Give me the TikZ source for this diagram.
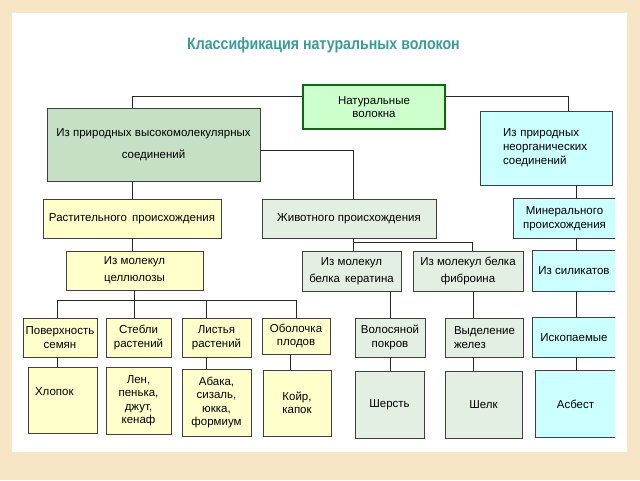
\documentclass[tikz,border=0pt]{standalone}
\usepackage{fontspec}
\usepackage{graphicx}
\setmainfont{Liberation Sans}
\usetikzlibrary{calc}
\definecolor{bgc}{HTML}{F6E6C6}
\definecolor{titlec}{HTML}{3A9C98}
\definecolor{bordc}{HTML}{404040}
\definecolor{rootfill}{HTML}{CCFFCC}
\definecolor{rootdraw}{HTML}{0B6A0B}
\definecolor{gmid}{HTML}{C6E0C6}
\definecolor{glight}{HTML}{E2EFE2}
\definecolor{ylw}{HTML}{FFFFCC}
\definecolor{cyn}{HTML}{CCFFFF}
\begin{document}
\begin{tikzpicture}[x=1pt,y=-1pt,
  box/.style={draw=bordc, line width=0.8pt, inner sep=2pt, align=center,
    font=\fontsize{11.5}{13.5}\selectfont},
  openbox/.style={box, draw=none},
  bord/.style={draw=bordc, line width=0.8pt},
  conn/.style={draw=black!85, line width=0.8pt},
  titlestyle/.style={font=\fontsize{16.5}{18}\selectfont\bfseries, text=titlec, anchor=base}]
\fill[bgc] (0,0) rectangle (640,480);
\fill[white] (12,13) rectangle (627,452);
\useasboundingbox (0,0) rectangle (640,480);

\node[titlestyle] (title) at (323.5,49) {\scalebox{0.86}[1]{Классификация натуральных волокон}};

% level 1
\node[box, draw=rootdraw, line width=1.3pt, fill=rootfill, minimum width=142pt, minimum height=44pt] (root) at (374,107) {Натуральные\\волокна};
\node[box, fill=gmid, minimum width=213pt, minimum height=73pt, font=\fontsize{11.5}{22}\selectfont] (hvm) at (153.5,144.5) {Из природных высокомолекулярных\\соединений};
\node[box, fill=cyn, minimum width=132pt, minimum height=74pt, text width=86pt, align=left, font=\fontsize{11.5}{14}\selectfont] (inorg) at (546,148) {Из природных\\неорганических\\соединений};

% level 2
\node[box, fill=ylw, minimum width=178pt, minimum height=39pt] (plant) at (132,218.5) {Растительного\, происхождения};
\node[box, fill=glight, minimum width=174pt, minimum height=39pt] (animal) at (349,218.5) {Животного происхождения};
\node[openbox, fill=cyn, minimum width=101pt, minimum height=39pt] (mineral) at (564.5,218.5) {Минерального\\происхождения};

% level 3
\node[box, fill=ylw, minimum width=137pt, minimum height=39pt, font=\fontsize{11.5}{17}\selectfont] (cell) at (134.5,270.5) {Из молекул\\целлюлозы};
\node[box, fill=glight, minimum width=99pt, minimum height=40pt, font=\fontsize{11.5}{17}\selectfont] (keratin) at (351.5,271) {Из молекул\\белка\, кератина};
\node[box, fill=glight, minimum width=110pt, minimum height=40pt, font=\fontsize{11.5}{17}\selectfont] (fibroin) at (468,271) {Из молекул белка\\фиброина};
\node[openbox, fill=cyn, minimum width=82pt, minimum height=40pt] (silicate) at (574,271) {Из силикатов};

% level 4
\node[box, fill=ylw, minimum width=74pt, minimum height=39pt] (surf) at (60,337.5) {Поверхность\\семян};
\node[box, fill=ylw, minimum width=65pt, minimum height=39pt] (stem) at (138.5,337.5) {Стебли\\растений};
\node[box, fill=ylw, minimum width=69pt, minimum height=39pt] (leaf) at (216.5,337.5) {Листья\\растений};
\node[box, fill=ylw, minimum width=68pt, minimum height=36pt] (shell) at (296,336) {Оболочка\\плодов};
\node[box, fill=glight, minimum width=70pt, minimum height=39pt] (hair) at (390,337.5) {Волосяной\\покров};
\node[box, fill=glight, minimum width=78pt, minimum height=39pt, text width=60pt, align=left] (gland) at (484,337.5) {Выделение\\желез};
\node[openbox, fill=cyn, minimum width=82pt, minimum height=39pt] (fossil) at (574,337.5) {Ископаемые};

% level 5
\node[box, fill=ylw, minimum width=69pt, minimum height=66pt, text width=55pt, align=left] (cotton) at (62.5,400) {\raisebox{5pt}[0pt][0pt]{Хлопок}};
\node[box, fill=ylw, minimum width=65pt, minimum height=67pt] (flax) at (138.5,400.5) {Лен,\\пенька,\\джут,\\кенаф};
\node[box, fill=ylw, minimum width=69pt, minimum height=67pt] (abaca) at (216.5,402.5) {Абака,\\сизаль,\\юкка,\\формиум};
\node[box, fill=ylw, minimum width=68pt, minimum height=66pt] (coir) at (297,403) {Койр,\\капок};
\node[box, fill=glight, minimum width=69pt, minimum height=67pt] (wool) at (389.5,404.5) {Шерсть};
\node[box, fill=glight, minimum width=77pt, minimum height=67pt] (silk) at (483.5,404.5) {Шелк};
\node[openbox, fill=cyn, minimum width=79pt, minimum height=66pt] (asbestos) at (575.5,404) {Асбест};

% open-right borders
\foreach \n in {mineral,silicate,fossil,asbestos}
  \draw[bord] (\n.north east) -- (\n.north west) -- (\n.south west) -- (\n.south east);

% connectors
\coordinate (hvmtop) at ($(hvm.north west)+(86,0)$);
\coordinate (inotop) at ($(inorg.north west)+(89,0)$);
\coordinate (an) at ($(animal.south)+(4,0)$);
\coordinate (ajunc) at ($(animal.south)+(4,4)$);
\coordinate (fb) at ($(fibroin.north)+(4,0)$);
\coordinate (mn) at ($(inorg.south)+(30,0)$);
\coordinate (gl) at ($(fibroin.south)+(5,0)$);
\coordinate (cbus) at ($(cell.south)+(0,9.5)$);
\coordinate (sf) at ($(surf.north)+(-3,0)$);
\coordinate (lf) at ($(leaf.north)+(-10,0)$);
\coordinate (sh) at ($(shell.south)+(-6,0)$);

\draw[conn] ([yshift=-12pt]root.north west) -| (hvmtop);
\draw[conn] ([yshift=-12pt]root.north east) -| (inotop);
\draw[conn] ([yshift=-43pt]hvm.north east) -| ($(animal.north)+(4,0)$);
\draw[conn] (hvmtop |- hvm.south) -- (hvmtop |- plant.north);
\draw[conn] (hvmtop |- plant.south) -- (hvmtop |- cell.north);
\draw[conn] (cell.south) -- (cell.south |- stem.north);
\draw[conn] (sf) |- (shell.north |- cbus) -- (shell.north);
\draw[conn] (lf) -- (lf |- cbus);
\draw[conn] (sf |- surf.south) -- (sf |- cotton.north);
\draw[conn] (lf |- leaf.south) -- (lf |- abaca.north);
\draw[conn] (sh) -- (sh |- coir.north);
\draw[conn] (an) -- (an |- keratin.north);
\draw[conn] (ajunc) -| (fb);
\draw[conn] (hair.north |- keratin.south) -- (hair.north);
\draw[conn] (hair.south) -- (hair.south |- wool.north);
\draw[conn] (gl) -- (gl |- gland.north);
\draw[conn] (gl |- gland.south) -- (gl |- silk.north);
\draw[conn] (mn) -- (mn |- mineral.north);
\draw[conn] (mn |- mineral.south) -- (mn |- silicate.north);
\draw[conn] (mn |- silicate.south) -- (mn |- fossil.north);
\draw[conn] (mn |- fossil.south) -- (mn |- asbestos.north);
\end{tikzpicture}
\end{document}
